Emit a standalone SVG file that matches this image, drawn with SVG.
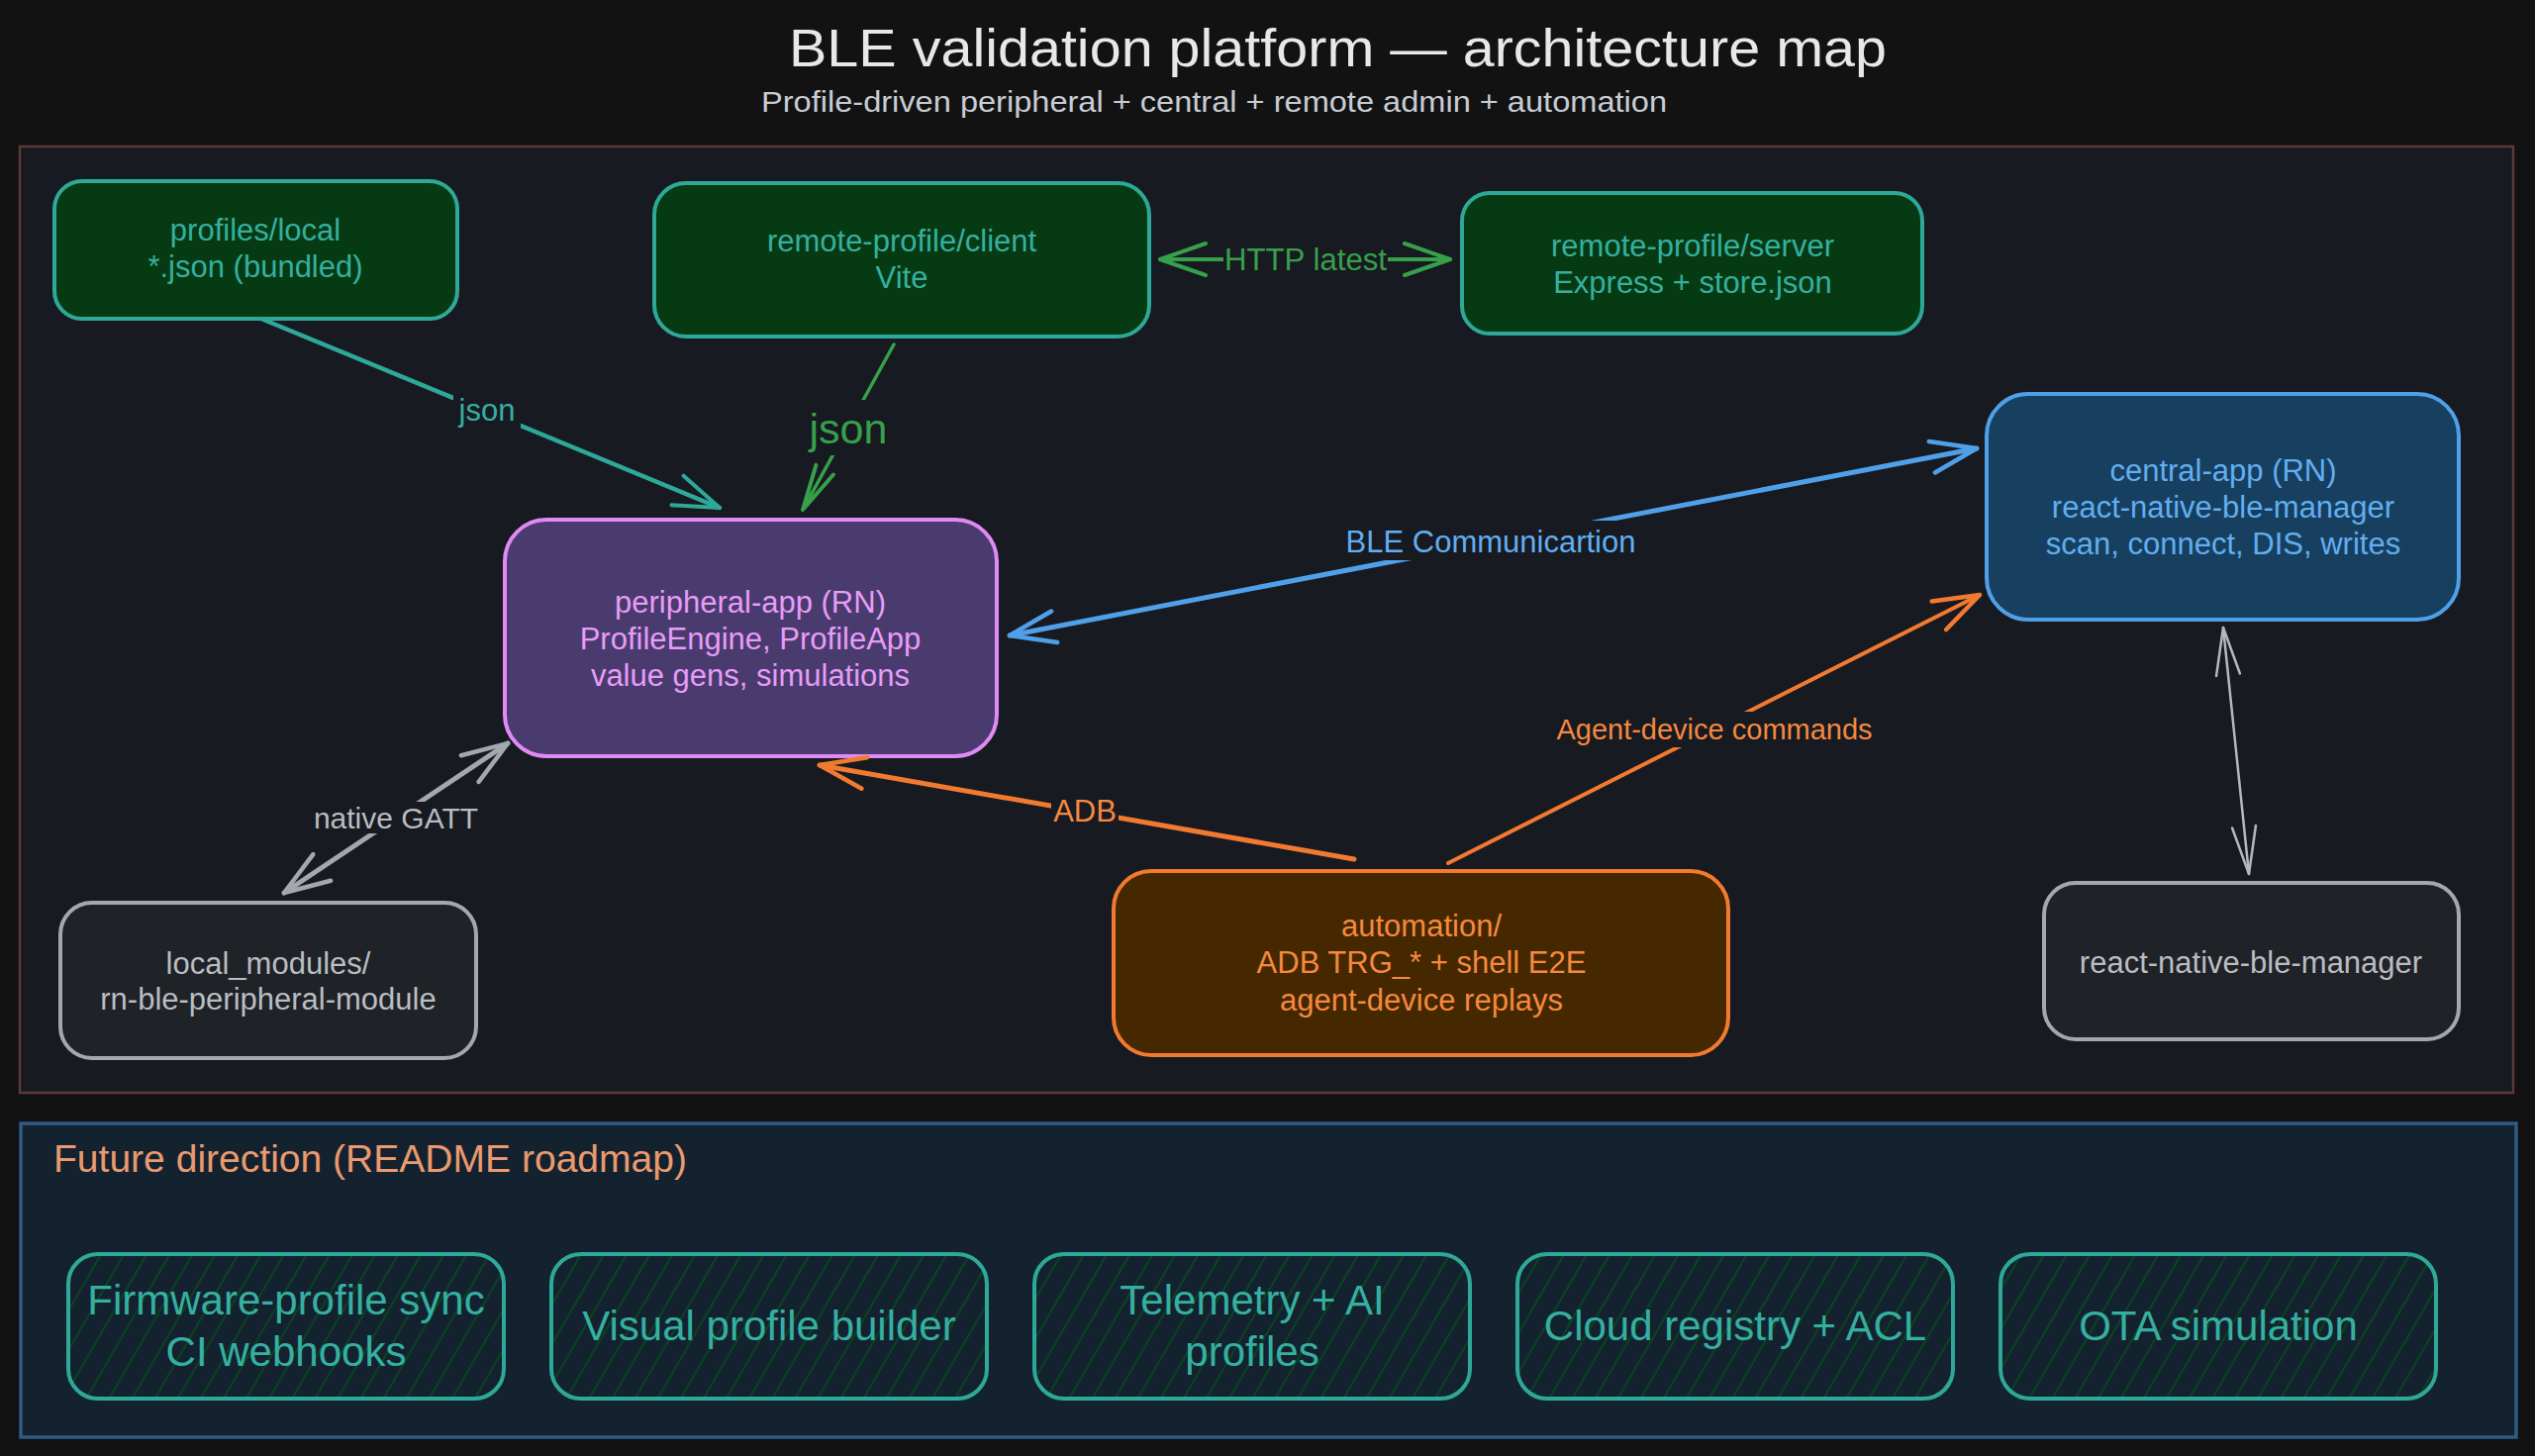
<svg xmlns="http://www.w3.org/2000/svg" width="2561" height="1471" viewBox="0 0 2561 1471">
  <defs>
    <style>
      text { font-family: "Liberation Sans", Arial, sans-serif; }
      .node { stroke-width: 4; }
      .n-green { fill: #053a12; stroke: #2ea898; }
      .t-teal { fill: #35b0a0; }
      .n-purple { fill: #4a3b6e; stroke: #e08af5; }
      .t-purple { fill: #e79cf8; }
      .n-blue { fill: #174060; stroke: #4fa0e8; }
      .t-blue { fill: #62aef0; }
      .n-gray { fill: #1f2226; stroke: #a3a7ae; }
      .t-gray { fill: #b9bdc3; }
      .n-orange { fill: #462800; stroke: #f27a30; }
      .t-orange { fill: #f5893f; }
      .ntext { font-size: 31px; text-anchor: middle; }
      .road { fill: url(#hatch); stroke: #2ea898; stroke-width: 4; }
      .rtext { font-size: 42px; text-anchor: middle; fill: #35b0a0; }
      .lbl-bg { fill: #171a21; }
      .conn { fill: none; stroke-linecap: round; }
    </style>
    <pattern id="hatch" patternUnits="userSpaceOnUse" width="20" height="20" patternTransform="rotate(30)">
      <line x1="2" y1="0" x2="2" y2="20" stroke="#0b4220" stroke-width="2"/>
    </pattern>
    <marker id="ah-teal" viewBox="0 0 54 40" refX="50" refY="20" markerWidth="54" markerHeight="40" markerUnits="userSpaceOnUse" orient="auto-start-reverse">
      <path d="M4,4 L50,20 L4,36" fill="none" stroke="#2ea898" stroke-width="4" stroke-linecap="round" stroke-linejoin="round"/>
    </marker>
    <marker id="ah-green" viewBox="0 0 54 40" refX="50" refY="20" markerWidth="54" markerHeight="40" markerUnits="userSpaceOnUse" orient="auto-start-reverse">
      <path d="M4,4 L50,20 L4,36" fill="none" stroke="#37a04a" stroke-width="4" stroke-linecap="round" stroke-linejoin="round"/>
    </marker>
    <marker id="ah-green-n" viewBox="0 0 54 40" refX="50" refY="20" markerWidth="54" markerHeight="40" markerUnits="userSpaceOnUse" orient="auto-start-reverse">
      <path d="M4,10 L50,20 L4,30" fill="none" stroke="#37a04a" stroke-width="4" stroke-linecap="round" stroke-linejoin="round"/>
    </marker>
    <marker id="ah-blue" viewBox="0 0 54 40" refX="50" refY="20" markerWidth="54" markerHeight="40" markerUnits="userSpaceOnUse" orient="auto-start-reverse">
      <path d="M4,4 L50,20 L4,36" fill="none" stroke="#4fa0e8" stroke-width="4.5" stroke-linecap="round" stroke-linejoin="round"/>
    </marker>
    <marker id="ah-orange" viewBox="0 0 54 40" refX="50" refY="20" markerWidth="54" markerHeight="40" markerUnits="userSpaceOnUse" orient="auto-start-reverse">
      <path d="M4,4 L50,20 L4,36" fill="none" stroke="#f27a30" stroke-width="4.5" stroke-linecap="round" stroke-linejoin="round"/>
    </marker>
    <marker id="ah-gray" viewBox="0 0 54 40" refX="50" refY="20" markerWidth="54" markerHeight="40" markerUnits="userSpaceOnUse" orient="auto-start-reverse">
      <path d="M4,4 L50,20 L4,36" fill="none" stroke="#a3a7ae" stroke-width="4.5" stroke-linecap="round" stroke-linejoin="round"/>
    </marker>
    <marker id="ah-gray-thin" viewBox="0 0 54 40" refX="50" refY="20" markerWidth="54" markerHeight="40" markerUnits="userSpaceOnUse" orient="auto-start-reverse">
      <path d="M2,8 L50,20 L2,32" fill="none" stroke="#b4b7bc" stroke-width="2.5" stroke-linecap="round" stroke-linejoin="round"/>
    </marker>
  </defs>

  <rect x="0" y="0" width="2561" height="1471" fill="#121212"/>

  <!-- Title -->
  <g id="title">
    <text x="797" y="67" font-size="54" textLength="1109" lengthAdjust="spacingAndGlyphs" fill="#e8e8e8">BLE validation platform — architecture map</text>
    <text x="769" y="113" font-size="30" textLength="915" lengthAdjust="spacingAndGlyphs" fill="#c8ccd4">Profile-driven peripheral + central + remote admin + automation</text>
  </g>

  <!-- Architecture frame -->
  <g id="frame">
    <rect x="20" y="148" width="2519" height="956" fill="#171a21" stroke="#5e3838" stroke-width="2.5"/>
  </g>

  <!-- Nodes -->
  <g id="node-profiles-local">
    <rect class="node n-green" x="55" y="183" width="407" height="139" rx="28"/>
    <text class="ntext t-teal" x="258" y="243">profiles/local</text>
    <text class="ntext t-teal" x="258" y="280">*.json (bundled)</text>
  </g>
  <g id="node-remote-client">
    <rect class="node n-green" x="661" y="185" width="500" height="155" rx="32"/>
    <text class="ntext t-teal" x="911" y="254">remote-profile/client</text>
    <text class="ntext t-teal" x="911" y="291">Vite</text>
  </g>
  <g id="node-remote-server">
    <rect class="node n-green" x="1477" y="195" width="465" height="142" rx="28"/>
    <text class="ntext t-teal" x="1710" y="259">remote-profile/server</text>
    <text class="ntext t-teal" x="1710" y="296">Express + store.json</text>
  </g>
  <g id="node-peripheral-app">
    <rect class="node n-purple" x="510" y="525" width="497" height="239" rx="42"/>
    <text class="ntext t-purple" x="758" y="619">peripheral-app (RN)</text>
    <text class="ntext t-purple" x="758" y="656">ProfileEngine, ProfileApp</text>
    <text class="ntext t-purple" x="758" y="693">value gens, simulations</text>
  </g>
  <g id="node-central-app">
    <rect class="node n-blue" x="2007" y="398" width="477" height="228" rx="42"/>
    <text class="ntext t-blue" x="2246" y="486">central-app (RN)</text>
    <text class="ntext t-blue" x="2246" y="523">react-native-ble-manager</text>
    <text class="ntext t-blue" x="2246" y="560">scan, connect, DIS, writes</text>
  </g>
  <g id="node-local-modules">
    <rect class="node n-gray" x="61" y="912" width="420" height="157" rx="32"/>
    <text class="ntext t-gray" x="271" y="984">local_modules/</text>
    <text class="ntext t-gray" x="271" y="1020">rn-ble-peripheral-module</text>
  </g>
  <g id="node-automation">
    <rect class="node n-orange" x="1125" y="880" width="621" height="186" rx="38"/>
    <text class="ntext t-orange" x="1436" y="946">automation/</text>
    <text class="ntext t-orange" x="1436" y="983">ADB TRG_* + shell E2E</text>
    <text class="ntext t-orange" x="1436" y="1021">agent-device replays</text>
  </g>
  <g id="node-rn-ble-manager">
    <rect class="node n-gray" x="2065" y="892" width="419" height="158" rx="32"/>
    <text class="ntext t-gray" x="2274" y="983">react-native-ble-manager</text>
  </g>

  <!-- Connectors -->
  <g id="connectors">
    <line class="conn" x1="264" y1="322" x2="727" y2="513" stroke="#2ea898" stroke-width="4.5" marker-end="url(#ah-teal)"/>
    <rect class="lbl-bg" x="458" y="398" width="68" height="36"/>
    <text x="492" y="425" font-size="31" text-anchor="middle" fill="#35b0a0">json</text>

    <line class="conn" x1="903" y1="348" x2="811" y2="515" stroke="#37a04a" stroke-width="3.5" marker-end="url(#ah-green-n)"/>
    <rect class="lbl-bg" x="810" y="404" width="94" height="56"/>
    <text x="857" y="448" font-size="43" text-anchor="middle" fill="#37a04a">json</text>

    <line class="conn" x1="1172" y1="262" x2="1465" y2="262" stroke="#37a04a" stroke-width="4" marker-start="url(#ah-green)" marker-end="url(#ah-green)"/>
    <rect class="lbl-bg" x="1236" y="246" width="166" height="32"/>
    <text x="1319" y="273" font-size="31" textLength="164" lengthAdjust="spacingAndGlyphs" text-anchor="middle" fill="#37a04a">HTTP latest</text>

    <line class="conn" x1="1020" y1="642" x2="1997" y2="453" stroke="#4fa0e8" stroke-width="5" marker-start="url(#ah-blue)" marker-end="url(#ah-blue)"/>
    <rect class="lbl-bg" x="1356" y="526" width="300" height="40"/>
    <text x="1506" y="558" font-size="31" text-anchor="middle" fill="#62aef0">BLE Communicartion</text>

    <line class="conn" x1="1368" y1="868" x2="828" y2="773" stroke="#f27a30" stroke-width="5" marker-end="url(#ah-orange)"/>
    <rect class="lbl-bg" x="1062" y="802" width="68" height="32"/>
    <text x="1096" y="830" font-size="31" text-anchor="middle" fill="#f5893f">ADB</text>

    <line class="conn" x1="1463" y1="872" x2="2000" y2="601" stroke="#f27a30" stroke-width="4" marker-end="url(#ah-orange)"/>
    <rect class="lbl-bg" x="1570" y="719" width="324" height="36"/>
    <text x="1732" y="747" font-size="29" text-anchor="middle" fill="#f5893f">Agent-device commands</text>

    <line class="conn" x1="287" y1="902" x2="513" y2="751" stroke="#a3a7ae" stroke-width="5" marker-start="url(#ah-gray)" marker-end="url(#ah-gray)"/>
    <rect class="lbl-bg" x="312" y="810" width="176" height="32"/>
    <text x="400" y="837" font-size="30" text-anchor="middle" fill="#b9bdc3">native GATT</text>

    <line class="conn" x1="2246" y1="634" x2="2272" y2="883" stroke="#b4b7bc" stroke-width="2.5" marker-start="url(#ah-gray-thin)" marker-end="url(#ah-gray-thin)"/>
  </g>

  <!-- Future direction panel -->
  <g id="future-panel">
    <rect x="21" y="1135" width="2521" height="317" fill="#142230" stroke="#2f5b84" stroke-width="3.5"/>
    <text x="54" y="1184" font-size="38" textLength="640" lengthAdjust="spacingAndGlyphs" fill="#e99a6e">Future direction (README roadmap)</text>
  </g>
  <g id="road-firmware">
    <rect class="road" x="69" y="1267" width="440" height="146" rx="30"/>
    <text class="rtext" x="289" y="1328">Firmware-profile sync</text>
    <text class="rtext" x="289" y="1380">CI webhooks</text>
  </g>
  <g id="road-visual">
    <rect class="road" x="557" y="1267" width="440" height="146" rx="30"/>
    <text class="rtext" x="777" y="1354">Visual profile builder</text>
  </g>
  <g id="road-telemetry">
    <rect class="road" x="1045" y="1267" width="440" height="146" rx="30"/>
    <text class="rtext" x="1265" y="1328">Telemetry + AI</text>
    <text class="rtext" x="1265" y="1380">profiles</text>
  </g>
  <g id="road-cloud">
    <rect class="road" x="1533" y="1267" width="440" height="146" rx="30"/>
    <text class="rtext" x="1753" y="1354">Cloud registry + ACL</text>
  </g>
  <g id="road-ota">
    <rect class="road" x="2021" y="1267" width="440" height="146" rx="30"/>
    <text class="rtext" x="2241" y="1354">OTA simulation</text>
  </g>
</svg>
